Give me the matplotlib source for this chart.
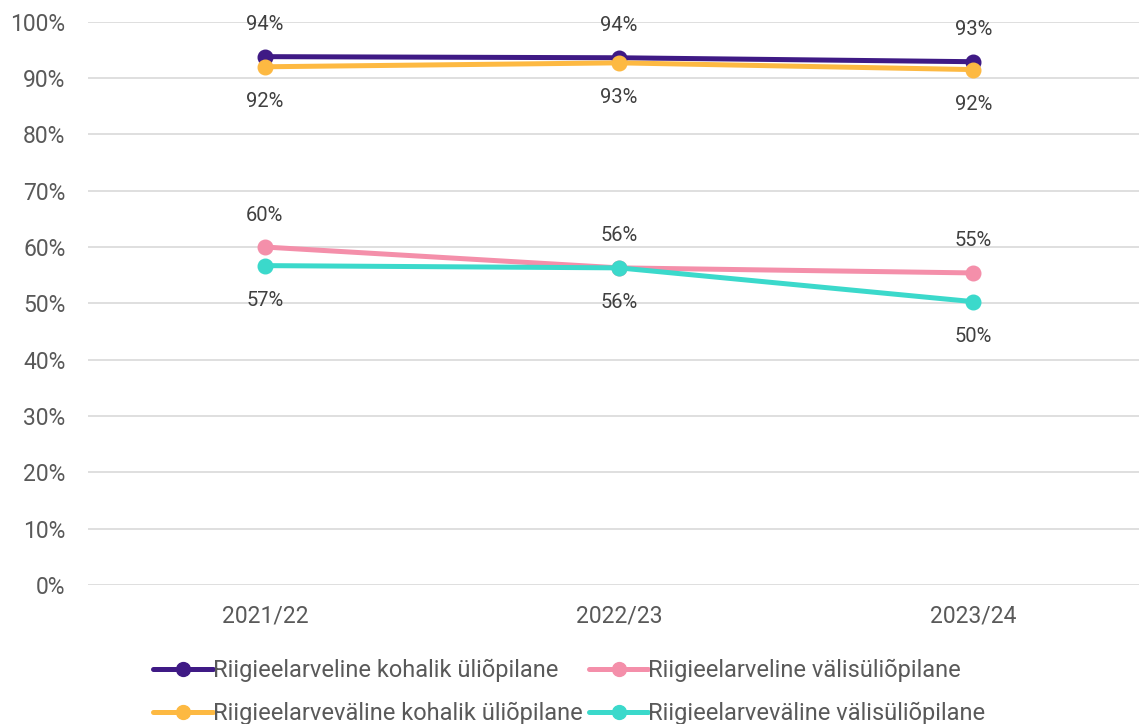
import matplotlib
matplotlib.use("Agg")
import matplotlib.pyplot as plt
from matplotlib.ticker import FuncFormatter

plt.rcParams['font.family'] = ['Roboto', 'DejaVu Sans']

categories = ["2021/22", "2022/23", "2023/24"]
series_names = [
    "Riigieelarveline kohalik üliõpilane",
    "Riigieelarveline välisüliõpilane",
    "Riigieelarveväline kohalik üliõpilane",
    "Riigieelarveväline välisüliõpilane",
]
riik_kohalik = [93.8, 93.6, 92.9]
riik_valis = [60.0, 56.3, 55.4]
valine_kohalik = [92.0, 92.7, 91.5]
valine_valis = [56.7, 56.3, 50.3]

colors = ["#3F1A85", "#F48FAA", "#FDB942", "#3BD9CB"]
values = [riik_kohalik, riik_valis, valine_kohalik, valine_valis]
label_pos = ["above", "above", "below", "below"]

fig = plt.figure(figsize=(11.39, 7.24), dpi=100)
ax = fig.add_axes([0.077, 0.192, 0.933, 0.778])

x = list(range(len(categories)))
lines = []
for name, vals, c in zip(series_names, values, colors):
    ln, = ax.plot(x, vals, color=c, lw=3.6, marker='o', markersize=10.5,
                  solid_capstyle='round', label=name, zorder=3)
    lines.append(ln)

txtcol = "#404040"
for vals, pos in zip(values, label_pos):
    for xi, v in zip(x, vals):
        off = 23 if pos == "above" else -25
        ax.annotate(f"{round(v):.0f}%", (xi, v), xytext=(0, off),
                    textcoords='offset points', ha='center', va='center',
                    fontsize=14.5, color=txtcol)

ax.set_xlim(-0.5, 2.5)
ax.set_ylim(0, 100)
ax.set_yticks(range(0, 101, 10))
ax.yaxis.set_major_formatter(FuncFormatter(lambda v, p: f"{v:.0f}%"))
ax.set_xticks(x)
ax.set_xticklabels(categories)
ax.grid(axis='y', color='#D9D9D9', lw=1.2)
ax.set_axisbelow(True)
for s in ax.spines.values():
    s.set_visible(False)
ax.tick_params(axis='both', length=0, labelsize=16.5, colors='#595959')
ax.tick_params(axis='x', pad=14)
ax.tick_params(axis='y', pad=16)

order = [0, 2, 1, 3]
leg = fig.legend([lines[i] for i in order], [series_names[i] for i in order],
                 loc='center', bbox_to_anchor=(0.5, 0.044), ncol=2, frameon=False,
                 fontsize=17, handlelength=2.5, handletextpad=0.0,
                 columnspacing=0.3, labelspacing=0.85, markerscale=0.95)
for t in leg.get_texts():
    t.set_color('#595959')

fig.savefig("out.png", dpi=100)
